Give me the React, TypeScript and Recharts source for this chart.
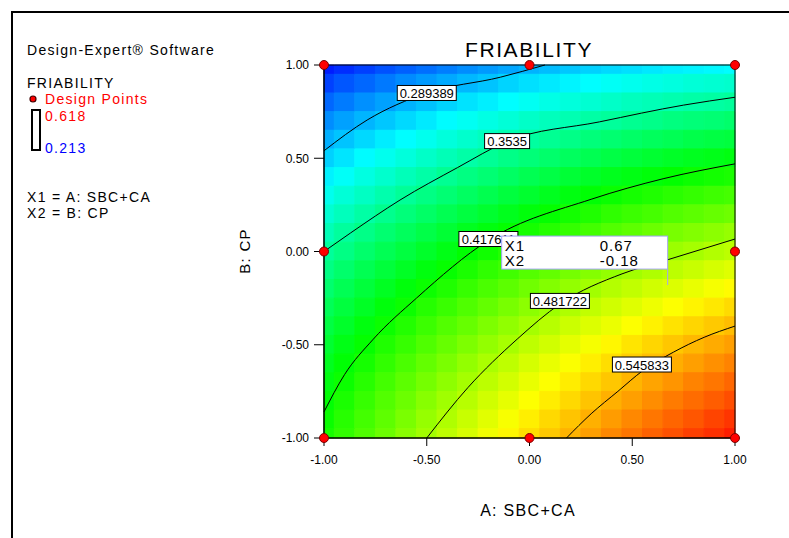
import { ComposedChart, XAxis, YAxis, Line, Scatter, ReferenceArea } from "recharts";

// grid of friability values (rows: B = 1 .. -1, cols: A = -1 .. 1)
const gridA = [-1, -0.9, -0.8, -0.7, -0.6, -0.5, -0.4, -0.3, -0.2, -0.1, 0, 0.1, 0.2, 0.3, 0.4, 0.5, 0.6, 0.7, 0.8, 0.9, 1];
const gridB = [1, 0.9, 0.8, 0.7, 0.6, 0.5, 0.4, 0.3, 0.2, 0.1, 0, -0.1, -0.2, -0.3, -0.4, -0.5, -0.6, -0.7, -0.8, -0.9, -1];
const friability = [
    [0.224, 0.231, 0.238, 0.245, 0.251, 0.257, 0.263, 0.269, 0.274, 0.279, 0.284, 0.288, 0.292, 0.296, 0.299, 0.302, 0.305, 0.308, 0.31, 0.312, 0.314],
    [0.239, 0.247, 0.254, 0.261, 0.268, 0.274, 0.28, 0.286, 0.291, 0.297, 0.302, 0.306, 0.31, 0.314, 0.318, 0.321, 0.324, 0.327, 0.33, 0.332, 0.334],
    [0.254, 0.262, 0.27, 0.277, 0.284, 0.29, 0.297, 0.303, 0.308, 0.314, 0.319, 0.324, 0.328, 0.332, 0.336, 0.34, 0.343, 0.346, 0.349, 0.351, 0.354],
    [0.269, 0.277, 0.285, 0.292, 0.299, 0.306, 0.313, 0.319, 0.325, 0.33, 0.336, 0.341, 0.345, 0.35, 0.354, 0.358, 0.361, 0.365, 0.368, 0.37, 0.373],
    [0.283, 0.291, 0.299, 0.307, 0.314, 0.321, 0.328, 0.334, 0.34, 0.346, 0.352, 0.357, 0.362, 0.367, 0.371, 0.375, 0.379, 0.382, 0.386, 0.389, 0.391],
    [0.296, 0.304, 0.313, 0.321, 0.328, 0.336, 0.343, 0.349, 0.356, 0.362, 0.368, 0.373, 0.378, 0.383, 0.388, 0.392, 0.396, 0.4, 0.403, 0.406, 0.409],
    [0.309, 0.317, 0.326, 0.334, 0.342, 0.349, 0.357, 0.364, 0.37, 0.376, 0.383, 0.388, 0.394, 0.399, 0.404, 0.408, 0.412, 0.416, 0.42, 0.423, 0.426],
    [0.321, 0.33, 0.338, 0.347, 0.355, 0.363, 0.37, 0.377, 0.384, 0.391, 0.397, 0.403, 0.409, 0.414, 0.419, 0.424, 0.428, 0.432, 0.436, 0.44, 0.443],
    [0.332, 0.341, 0.35, 0.359, 0.367, 0.375, 0.383, 0.39, 0.397, 0.404, 0.411, 0.417, 0.423, 0.428, 0.434, 0.439, 0.443, 0.448, 0.452, 0.456, 0.459],
    [0.343, 0.353, 0.362, 0.371, 0.379, 0.387, 0.395, 0.403, 0.41, 0.417, 0.424, 0.43, 0.436, 0.442, 0.448, 0.453, 0.458, 0.463, 0.467, 0.471, 0.475],
    [0.354, 0.363, 0.373, 0.382, 0.39, 0.399, 0.407, 0.415, 0.422, 0.43, 0.437, 0.443, 0.45, 0.456, 0.461, 0.467, 0.472, 0.477, 0.481, 0.486, 0.49],
    [0.363, 0.373, 0.383, 0.392, 0.401, 0.41, 0.418, 0.426, 0.434, 0.441, 0.449, 0.455, 0.462, 0.468, 0.474, 0.48, 0.485, 0.49, 0.495, 0.5, 0.504],
    [0.372, 0.382, 0.392, 0.402, 0.411, 0.42, 0.428, 0.437, 0.445, 0.452, 0.46, 0.467, 0.474, 0.48, 0.487, 0.492, 0.498, 0.503, 0.508, 0.513, 0.518],
    [0.381, 0.391, 0.401, 0.411, 0.42, 0.43, 0.438, 0.447, 0.455, 0.463, 0.471, 0.478, 0.485, 0.492, 0.498, 0.504, 0.51, 0.516, 0.521, 0.526, 0.531],
    [0.389, 0.399, 0.41, 0.42, 0.429, 0.439, 0.448, 0.456, 0.465, 0.473, 0.481, 0.488, 0.496, 0.503, 0.509, 0.516, 0.522, 0.528, 0.533, 0.538, 0.543],
    [0.396, 0.407, 0.417, 0.428, 0.437, 0.447, 0.456, 0.465, 0.474, 0.482, 0.491, 0.498, 0.506, 0.513, 0.52, 0.527, 0.533, 0.539, 0.545, 0.55, 0.555],
    [0.403, 0.414, 0.424, 0.435, 0.445, 0.455, 0.464, 0.474, 0.483, 0.491, 0.5, 0.508, 0.515, 0.523, 0.53, 0.537, 0.543, 0.549, 0.555, 0.561, 0.566],
    [0.409, 0.42, 0.431, 0.442, 0.452, 0.462, 0.472, 0.481, 0.49, 0.499, 0.508, 0.516, 0.524, 0.532, 0.539, 0.546, 0.553, 0.559, 0.566, 0.571, 0.577],
    [0.414, 0.426, 0.437, 0.448, 0.458, 0.469, 0.479, 0.488, 0.498, 0.507, 0.516, 0.524, 0.532, 0.54, 0.548, 0.555, 0.562, 0.569, 0.575, 0.581, 0.587],
    [0.419, 0.431, 0.442, 0.453, 0.464, 0.475, 0.485, 0.495, 0.505, 0.514, 0.523, 0.532, 0.54, 0.548, 0.556, 0.564, 0.571, 0.578, 0.584, 0.591, 0.597],
    [0.424, 0.435, 0.447, 0.458, 0.47, 0.48, 0.491, 0.501, 0.511, 0.52, 0.53, 0.538, 0.547, 0.555, 0.564, 0.571, 0.579, 0.586, 0.593, 0.599, 0.606],
];

const legendHigh = 0.618;
const legendLow = 0.213;

// contour lines
const contour1 = [
    { x: -1, y: 0.54 }, { x: -0.79, y: 0.705 }, { x: -0.5, y: 0.85 }, { x: -0.14, y: 0.935 }, { x: 0.075, y: 1 },
];
const contour2 = [
    { x: -1, y: 0 }, { x: -0.87, y: 0.1 }, { x: -0.63, y: 0.276 }, { x: -0.35, y: 0.45 }, { x: -0.11, y: 0.59 },
    { x: 0.34, y: 0.695 }, { x: 0.75, y: 0.785 }, { x: 1, y: 0.827 },
];
const contour3 = [
    { x: -1, y: -0.86 }, { x: -0.9, y: -0.66 }, { x: -0.76, y: -0.47 }, { x: -0.55, y: -0.25 }, { x: -0.2, y: 0.06 },
    { x: 0.3, y: 0.28 }, { x: 0.65, y: 0.39 }, { x: 1, y: 0.47 },
];
const contour4 = [
    { x: -0.5, y: -1 }, { x: -0.3, y: -0.73 }, { x: -0.06, y: -0.47 }, { x: 0.15, y: -0.28 }, { x: 0.45, y: -0.12 },
    { x: 0.67, y: -0.045 }, { x: 1, y: 0.067 },
];
const contour5 = [
    { x: 0.18, y: -1 }, { x: 0.3, y: -0.87 }, { x: 0.43, y: -0.75 }, { x: 0.55, y: -0.64 }, { x: 0.7, y: -0.54 },
    { x: 0.85, y: -0.46 }, { x: 1, y: -0.4 },
];
const contourLabels = [
    { x: -0.5, y: 0.85, text: "0.289389" },
    { x: -0.109, y: 0.592, text: "0.3535" },
    { x: -0.2, y: 0.067, text: "0.417611" },
    { x: 0.148, y: -0.265, text: "0.481722" },
    { x: 0.547, y: -0.606, text: "0.545833" },
];

const designPoints = [
    { x: -1, y: 1 }, { x: 0, y: 1 }, { x: 1, y: 1 },
    { x: -1, y: 0 }, { x: 1, y: 0 },
    { x: -1, y: -1 }, { x: 0, y: -1 }, { x: 1, y: -1 },
];
const cursorPoint = [{ x: 0.67, y: -0.18 }];

const ticks = [-1, -0.5, 0, 0.5, 1];
const font = "'Liberation Sans', Arial, sans-serif";

const stops = [
    [0, 0, 255],
    [0, 255, 255],
    [0, 255, 0],
    [255, 255, 0],
    [255, 0, 0],
];
function fieldColor(v: number) {
    const t = Math.max(0, Math.min(1, (v - legendLow) / (legendHigh - legendLow)));
    const s = t * 4;
    const i = Math.min(3, Math.floor(s));
    const f = s - i;
    const c = stops[i].map((a, k) => Math.round(a + (stops[i + 1][k] - a) * f));
    return `rgb(${c[0]},${c[1]},${c[2]})`;
}

function edge(arr: number[], i: number, side: number) {
    const j = i + side;
    if (j < 0 || j >= arr.length) return arr[i];
    return (arr[i] + arr[j]) / 2;
}

const cells: { x1: number; x2: number; y1: number; y2: number; fill: string }[] = [];
gridB.forEach((b, r) => {
    gridA.forEach((a, c) => {
        cells.push({
            x1: edge(gridA, c, -1),
            x2: edge(gridA, c, 1),
            y1: edge(gridB, r, 1),
            y2: edge(gridB, r, -1),
            fill: fieldColor(friability[r][c]),
        });
    });
});

const LabelBox = (props: any) => {
    const { cx, cy, payload } = props;
    const w = payload.text.length * 7 + 3;
    return (
        <g>
            <rect x={cx - w / 2} y={cy - 7.5} width={w} height={15} fill="#fff" stroke="#000" strokeWidth={1} />
            <text x={cx} y={cy + 5} textAnchor="middle" fontSize={13} fontFamily={font} fill="#000">
                {payload.text}
            </text>
        </g>
    );
};

const CursorBox = (props: any) => {
    const { cx, cy } = props;
    const right = cx + 0.5;
    const bottom = cy - 16;
    const left = right - 166;
    const top = bottom - 33;
    return (
        <g>
            <rect x={left} y={top} width={166} height={33} fill="#fff" stroke="#a4a4f4" strokeWidth={1} />
            <line x1={right} y1={bottom} x2={right} y2={cy} stroke="#a4a4f4" strokeWidth={1} />
            <text fontSize={15} fontFamily={font} fill="#000" letterSpacing={1}>
                <tspan x={left + 3} y={top + 15}>X1</tspan>
                <tspan x={left + 98} y={top + 15}>{cursorPoint[0].x.toFixed(2)}</tspan>
                <tspan x={left + 3} y={top + 30}>X2</tspan>
                <tspan x={left + 98} y={top + 30}>{cursorPoint[0].y.toFixed(2)}</tspan>
            </text>
        </g>
    );
};

const DesignDot = (props: any) => (
    <circle cx={props.cx} cy={props.cy} r={4.5} fill="#ff0000" stroke="#7a0000" strokeWidth={1} />
);

const tickStyle = { fontSize: 12, fontFamily: font, fill: "#000" };

export default function App() {
    return (
        <div style={{ position: "absolute", left: 0, top: 0, width: 789, height: 538, background: "#fff" }}>
            <ComposedChart width={789} height={538} margin={{ top: 65, right: 54, bottom: 60, left: 274 }}>
                <XAxis
                    type="number"
                    dataKey="x"
                    domain={[-1, 1]}
                    ticks={ticks}
                    tickFormatter={(v: number) => v.toFixed(2)}
                    height={40}
                    tickSize={8}
                    tickMargin={9}
                    tick={tickStyle}
                    stroke="#000"
                />
                <YAxis
                    type="number"
                    dataKey="y"
                    domain={[-1, 1]}
                    ticks={ticks}
                    tickFormatter={(v: number) => v.toFixed(2)}
                    width={50}
                    tickSize={10}
                    tickMargin={5}
                    tick={tickStyle}
                    stroke="#000"
                />
                {cells.map((c, i) => (
                    <ReferenceArea
                        key={i}
                        x1={c.x1}
                        x2={c.x2}
                        y1={c.y1}
                        y2={c.y2}
                        fill={c.fill}
                        fillOpacity={1}
                        stroke={c.fill}
                        strokeWidth={1}
                        ifOverflow="visible"
                    />
                ))}
                <ReferenceArea x1={-1} x2={1} y1={-1} y2={1} fill="none" fillOpacity={0} stroke="#000" strokeWidth={1} />
                {[contour1, contour2, contour3, contour4, contour5].map((c, i) => (
                    <Line
                        key={i}
                        data={c}
                        dataKey="y"
                        type="monotone"
                        stroke="#000"
                        strokeWidth={1}
                        dot={false}
                        activeDot={false}
                        isAnimationActive={false}
                    />
                ))}
                <Scatter data={contourLabels} dataKey="y" shape={LabelBox} isAnimationActive={false} />
                <Scatter data={cursorPoint} dataKey="y" shape={CursorBox} isAnimationActive={false} />
                <Scatter data={designPoints} dataKey="y" shape={DesignDot} isAnimationActive={false} />
            </ComposedChart>
            <svg
                width={789}
                height={538}
                style={{ position: "absolute", left: 0, top: 0, pointerEvents: "none" }}
                fontFamily={font}
            >
                <line x1={12} y1={11} x2={12} y2={538} stroke="#000" strokeWidth={2} />
                <line x1={11} y1={12} x2={789} y2={12} stroke="#000" strokeWidth={2} />
                <text x={27} y={55} fontSize={14} letterSpacing={1.3} fill="#000">Design-Expert® Software</text>
                <text x={27} y={88} fontSize={14} letterSpacing={1.3} fill="#000">FRIABILITY</text>
                <circle cx={33} cy={99} r={3} fill="#ff0000" stroke="#400000" strokeWidth={1.2} />
                <text x={45} y={104} fontSize={14} letterSpacing={1.3} fill="#ff0000">Design Points</text>
                <rect x={32} y={110} width={8} height={40} fill="#fff" stroke="#000" strokeWidth={2} />
                <text x={45} y={121} fontSize={14} letterSpacing={1.3} fill="#ff0000">{legendHigh.toFixed(3)}</text>
                <text x={45} y={153} fontSize={14} letterSpacing={1.3} fill="#0000ff">{legendLow.toFixed(3)}</text>
                <text x={27} y={202} fontSize={14} letterSpacing={1.3} fill="#000">X1 = A: SBC+CA</text>
                <text x={27} y={218} fontSize={14} letterSpacing={1.3} fill="#000">X2 = B: CP</text>
                <text x={529} y={57} fontSize={21} letterSpacing={1.6} textAnchor="middle" fill="#000">FRIABILITY</text>
                <text x={528} y={516} fontSize={16} letterSpacing={1.3} textAnchor="middle" fill="#000">A: SBC+CA</text>
                <text
                    x={250}
                    y={251}
                    fontSize={15}
                    letterSpacing={1.3}
                    textAnchor="middle"
                    fill="#000"
                    transform="rotate(-90 250 251)"
                >
                    B: CP
                </text>
            </svg>
        </div>
    );
}
